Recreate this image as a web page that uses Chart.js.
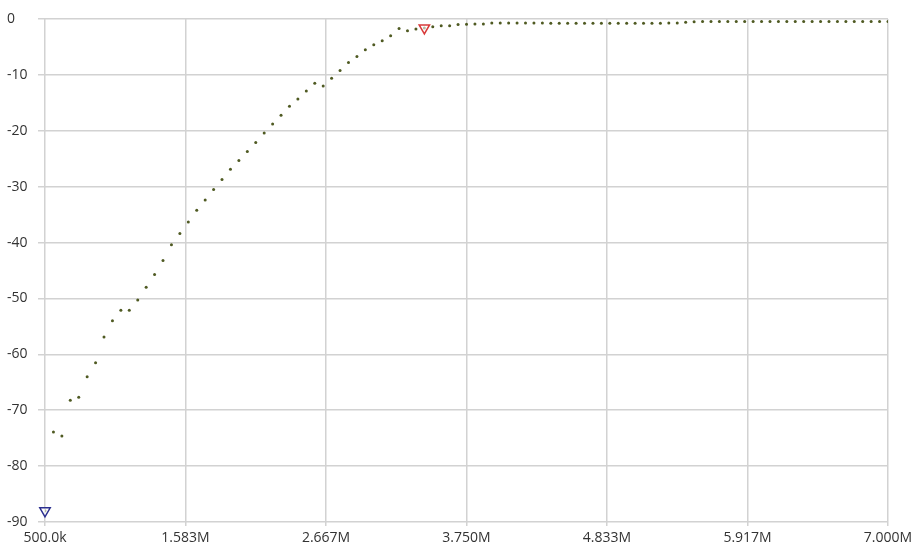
<!DOCTYPE html>
<html>
<head>
<meta charset="utf-8">
<script src="https://cdn.jsdelivr.net/npm/chart.js@4/dist/chart.umd.min.js"></script>
<style>
  html, body { margin: 0; padding: 0; background: #fff; }
  #wrap { width: 912px; height: 548px; }
</style>
</head>
<body>
<div id="wrap"><canvas id="sweep"></canvas></div>
<script>
// sweep: 500 kHz to 7 MHz, 101 points (values in MHz)
const freqStart = 0.5;
const freqStep = 0.065;

// measured level per sweep point (dB)
const levels = [
    -88.0, -73.9, -74.6, -68.2, -67.7, -64.0, -61.5, -56.9, -54.0, -52.1,
    -52.1, -50.3, -48.0, -45.7, -43.2, -40.4, -38.4, -36.3, -34.2, -32.4,
    -30.5, -28.7, -26.9, -25.3, -23.7, -22.1, -20.4, -18.8, -17.2, -15.6,
    -14.3, -12.9, -11.5, -12.0, -10.6, -9.2, -7.8, -6.7, -5.5, -4.6,
    -3.9, -3.0, -1.7, -2.1, -1.8, -1.6, -1.4, -1.2, -1.2, -1.0,
    -0.95, -0.9, -0.9, -0.7, -0.7, -0.7, -0.7, -0.7, -0.7, -0.7,
    -0.75, -0.75, -0.75, -0.75, -0.75, -0.75, -0.75, -0.75, -0.75, -0.75,
    -0.75, -0.75, -0.75, -0.75, -0.7, -0.7, -0.6, -0.5, -0.45, -0.45,
    -0.45, -0.45, -0.45, -0.45, -0.45, -0.45, -0.45, -0.45, -0.45, -0.45,
    -0.45, -0.45, -0.45, -0.45, -0.45, -0.45, -0.45, -0.45, -0.45, -0.45,
    -0.45
];

// marker positions (sweep index)
const markerIdx = [0, 45];
const markerColors = ["#2b2f8f", "#d83a3a"];

// x axis ticks and labels
const xTickVals = [0.5, 1.583, 2.667, 3.75, 4.833, 5.917, 7.0];
const xTickLabels = ["500.0k", "1.583M", "2.667M", "3.750M", "4.833M", "5.917M", "7.000M"];
const yTickVals = [0, -10, -20, -30, -40, -50, -60, -70, -80, -90];

const points = levels.map(function (v, i) {
    return { x: freqStart + i * freqStep, y: v };
});
const markers = markerIdx.map(function (i) { return points[i]; });

const fontSpec = { family: "'Open Sans', 'Noto Sans', sans-serif", size: 14 };

new Chart(document.getElementById("sweep"), {
    type: "scatter",
    data: {
        datasets: [
            {
                data: markers,
                pointStyle: "triangle",
                rotation: 180,
                pointRadius: 6,
                pointBackgroundColor: "rgba(255,255,255,0.6)",
                pointBorderColor: markerColors,
                pointBorderWidth: 1.5,
                clip: false
            },
            {
                data: points,
                pointRadius: 1.5,
                pointBorderWidth: 0,
                pointBackgroundColor: "#4f5a22",
                showLine: false
            }
        ]
    },
    options: {
        responsive: true,
        maintainAspectRatio: false,
        animation: false,
        layout: { padding: { left: 7, top: 19, right: 24, bottom: 0 } },
        plugins: {
            legend: { display: false },
            tooltip: { enabled: false }
        },
        scales: {
            x: {
                type: "linear",
                min: 0.5,
                max: 7.0,
                afterBuildTicks: function (scale) {
                    scale.ticks = xTickVals.map(function (v) { return { value: v }; });
                },
                afterFit: function (scale) {
                    scale.height = 26;
                    scale.paddingLeft = 0;
                    scale.paddingRight = 0;
                },
                ticks: {
                    autoSkip: false,
                    maxRotation: 0,
                    padding: 4,
                    color: "#333",
                    font: fontSpec,
                    callback: function (v) {
                        const k = xTickVals.indexOf(v);
                        return k >= 0 ? xTickLabels[k] : "";
                    }
                },
                grid: { color: "#d2d2d2", lineWidth: 1.5, tickLength: 4 },
                border: { display: false }
            },
            y: {
                min: -90,
                max: 0,
                afterBuildTicks: function (scale) {
                    scale.ticks = yTickVals.map(function (v) { return { value: v }; });
                },
                afterFit: function (scale) {
                    scale.width = 38;
                    scale.paddingTop = 0;
                    scale.paddingBottom = 0;
                },
                ticks: {
                    crossAlign: "far",
                    color: "#333",
                    font: fontSpec
                },
                grid: { color: "#d2d2d2", lineWidth: 1.5, tickLength: 7 },
                border: { display: false }
            }
        }
    }
});
</script>
</body>
</html>
